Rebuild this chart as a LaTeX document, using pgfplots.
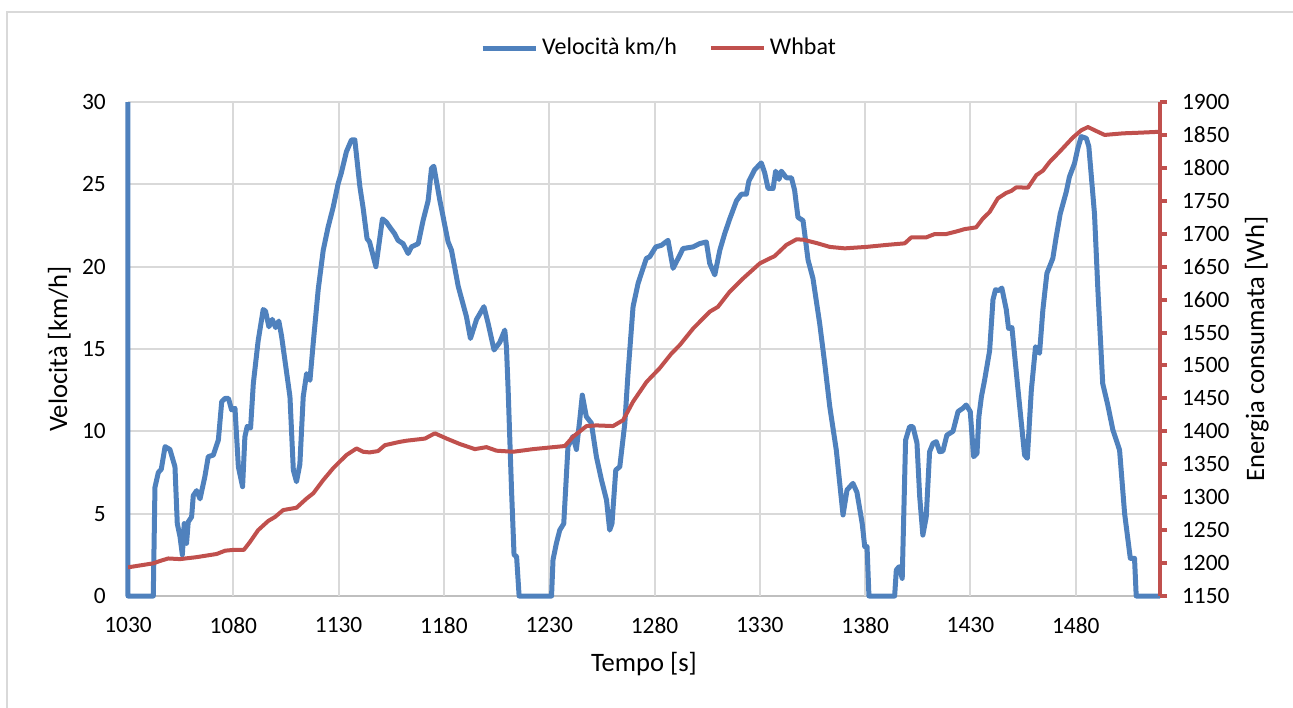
\documentclass[border=0pt]{standalone}
\usepackage{pgfplots}
\pgfplotsset{compat=1.18}
\usepackage{fontspec}
\setmainfont{Carlito}
\definecolor{vblue}{HTML}{4F81BD}
\definecolor{wred}{HTML}{C0504D}
\definecolor{gridgray}{HTML}{D9D9D9}
\definecolor{axisgray}{HTML}{BFBFBF}

\pgfplotsset{
  common/.style={
    width=516pt, height=247pt, scale only axis,
    xmin=1030, xmax=1520,
    font=\fontsize{11.7}{14}\selectfont,
    ticklabel style={font=\fontsize{11.7}{14}\selectfont},
    /pgf/number format/assume math mode=true,
    /pgf/number format/set thousands separator={},
  },
}

\begin{document}
\begin{tikzpicture}
\begin{axis}[common,
    ymin=0, ymax=30,
    xtick={1030,1080,...,1480}, ytick={0,5,...,30},
    axis x line*=bottom, axis y line*=left,
    x axis line style={-, color=axisgray, line width=1pt},
    y axis line style={draw=none},
    major tick length=0pt,
    ymajorgrids=true, xmajorgrids=false,
    extra x ticks={1080,1130,...,1480}, extra x tick labels={},
    extra x tick style={xmajorgrids=true},
    grid style={color=gridgray, line width=1pt},
    yticklabel style={xshift=-7.6pt},
    xticklabel style={yshift=-7pt},
    every axis x label/.style={at={(axis description cs:0.5,-0.1538)}, anchor=base,
      font=\fontsize{13.3}{16}\selectfont},
    every axis y label/.style={at={(axis description cs:-0.0591,0.5)}, anchor=base, rotate=90,
      font=\fontsize{13.3}{16}\selectfont},
    xlabel={Tempo [s]}, ylabel={Velocità [km/h]},
    clip=false,
    legend columns=-1,
    legend style={draw=none, fill=none, at={(axis description cs:0.5155,1.109)}, anchor=center,
      font=\fontsize{12}{14}\selectfont,
      /tikz/every even column/.append style={column sep=14pt}},
    legend image code/.code={\draw[#1] (0pt,0pt) -- (26.5pt,0pt);},
]
\addplot[vblue, line width=2.5pt, line join=round] coordinates {
(1030,30) (1030,0) (1042,0) (1042.8,6.6) (1044.4,7.5) (1045.8,7.7) (1047.6,9.07)
(1049.9,8.9) (1052.3,7.85) (1053.4,4.4) (1054.7,3.6) (1055.8,2.5) (1056.7,4.4)
(1057.8,3.2) (1058.6,4.5) (1060.2,4.8) (1061,6.1) (1062.6,6.4) (1064.2,5.9)
(1066.5,7.25) (1068.1,8.46) (1070.5,8.56) (1072.9,9.47) (1074.5,11.8) (1076.1,12.0)
(1077.7,12.0) (1079.2,11.3) (1080.8,11.4) (1082.4,7.85) (1084.4,6.64) (1085.5,9.67)
(1086.6,10.3) (1088.2,10.2) (1089.5,12.9) (1091.8,15.5) (1094.2,17.4) (1095.3,17.3)
(1096.9,16.35) (1098.5,16.8) (1100.1,16.3) (1101.6,16.7) (1102.9,15.8) (1106.9,12.1)
(1108.5,7.65) (1110.0,6.94) (1111.6,8.0) (1113.2,12.1) (1114.8,13.5) (1116.4,13.1)
(1117.9,15.3) (1120.3,18.6) (1122.7,21.0) (1125.0,22.4) (1127.4,23.6) (1129.8,25.06)
(1131.3,25.7) (1133.7,26.98) (1136.1,27.7) (1137.7,27.7) (1140.1,24.85) (1141.6,23.6)
(1143.5,21.7) (1144.7,21.5) (1147.7,20.0) (1150.8,22.9) (1152.7,22.7) (1154.3,22.4)
(1156.6,22.0) (1158.2,21.6) (1160.6,21.4) (1163.0,20.8) (1164.6,21.2) (1167.8,21.4)
(1170.1,22.8) (1172.5,24.0) (1174.1,25.97) (1175.2,26.1) (1178.1,24.0) (1182.0,21.5)
(1183.6,21.0) (1186.8,18.8) (1190.7,16.96) (1192.6,15.64) (1195.5,16.8) (1199.0,17.57)
(1201.0,16.55) (1203.8,14.94) (1206.5,15.4) (1208.9,16.15) (1209.7,15.1) (1210.5,12.5)
(1212.1,6.44) (1213.3,2.5) (1214.5,2.4) (1215.7,0) (1231.1,0) (1231.8,2.2)
(1233.4,3.2) (1235.0,4.0) (1236.9,4.4) (1238.9,9.07) (1241.3,9.7) (1242.9,8.9)
(1244.5,10.7) (1245.7,12.2) (1247.6,10.9) (1250.0,10.5) (1252.4,8.46) (1254.8,7.05)
(1257.2,5.83) (1258.7,4.0) (1259.8,4.4) (1261.6,7.65) (1263.5,7.85) (1265.9,10.5)
(1267.4,13.5) (1269.8,17.57) (1272.2,18.99) (1276.1,20.5) (1277.7,20.6) (1280.6,21.2)
(1283.3,21.3) (1286.4,21.6) (1288.8,19.9) (1292.0,20.7) (1293.5,21.1) (1298.3,21.2)
(1301.4,21.4) (1304.6,21.5) (1306.2,20.2) (1308.6,19.5) (1311.0,21.0) (1313.3,22.0)
(1315.7,22.9) (1318.9,24.0) (1321.2,24.4) (1323.6,24.4) (1324.8,25.2) (1327.6,25.9)
(1330.7,26.3) (1332.3,25.7) (1333.9,24.75) (1336.3,24.75) (1337.5,25.8) (1339.1,25.3)
(1340.2,25.8) (1342.6,25.4) (1345.0,25.4) (1346.5,24.65) (1348.1,23.0) (1350.5,22.8)
(1352.9,20.4) (1355.2,19.3) (1358.4,16.56) (1360.8,14.13) (1363.2,11.5) (1366.3,8.86)
(1369.5,4.92) (1371.4,6.44) (1374.2,6.84) (1376.1,6.3) (1378.6,4.4) (1379.8,3.0)
(1380.9,3.0) (1381.8,0) (1394.0,0) (1394.8,1.58) (1396.1,1.78) (1397.6,1.07)
(1399.2,9.47) (1401.1,10.28) (1402.7,10.28) (1404.6,9.3) (1405.9,6.03) (1407.4,3.7)
(1409.0,4.8) (1410.6,8.76) (1412.2,9.27) (1413.8,9.37) (1415.4,8.76) (1416.9,8.8)
(1418.8,9.77) (1421.7,10.0) (1424.1,11.2) (1426.4,11.4) (1428.0,11.6) (1429.9,11.2)
(1431.5,8.46) (1433.1,8.66) (1434.0,10.9) (1435.2,12.1) (1436.7,13.1) (1439.1,14.9)
(1440.7,18.0) (1441.9,18.6) (1443.5,18.55) (1444.9,18.7) (1447.0,17.4) (1448.1,16.25)
(1449.7,16.3) (1452.6,12.5) (1455.7,8.56) (1457.0,8.36) (1458.9,12.5) (1460.9,15.14)
(1462.8,14.74) (1464.4,17.4) (1466.3,19.6) (1469.1,20.5) (1470.7,21.8) (1472.6,23.2)
(1475.5,24.55) (1477.0,25.46) (1479.4,26.27) (1481.0,27.2) (1482.6,27.9) (1485.0,27.8)
(1486.2,27.3) (1488.9,23.2) (1490.5,18.6) (1492.8,12.9) (1495.2,11.6) (1497.6,10.1)
(1500.8,8.86) (1503.2,5.0) (1505.9,2.29) (1507.9,2.29) (1508.7,0) (1520,0)
};
\addlegendentry{Velocità km/h}
\addlegendimage{wred, line width=2pt}
\addlegendentry{Whbat}
\end{axis}

\begin{axis}[common,
    ymin=1150, ymax=1900, ytick={1150,1200,...,1900},
    axis x line=none, axis y line*=right,
    y axis line style={-, color=wred, line width=2pt},
    ytick style={color=wred, line width=2pt},
    tick align=outside, major tick length=3.5pt,
    yticklabel style={xshift=4pt},
    every axis y label/.style={at={(axis description cs:1.1008,0.5)}, anchor=base, rotate=90,
      font=\fontsize{13.3}{16}\selectfont},
    ylabel={Energia consumata [Wh]},
]
\addplot[wred, line width=2pt, line join=round] coordinates {
(1030,1193.5) (1042,1199.6) (1045,1203) (1049.1,1207) (1054.7,1206) (1062.6,1209)
(1072.1,1213.8) (1076.1,1218.8) (1080,1220) (1085,1220) (1087.9,1232) (1091.8,1250)
(1096.6,1264) (1099.8,1270) (1103.7,1280.5) (1110,1284) (1114.8,1298) (1118,1306)
(1122.7,1326) (1127.4,1344) (1133.7,1364) (1138.5,1374) (1141.6,1369) (1144.7,1368)
(1148.7,1370) (1152,1379) (1159,1384) (1162.3,1385.8) (1171,1389) (1175.7,1397)
(1181.3,1389) (1187.6,1380.7) (1194.7,1373) (1200.2,1376) (1205,1370.6) (1212.9,1369)
(1222.4,1373) (1237.4,1377.7) (1241.3,1391.8) (1247.7,1408) (1252.4,1409) (1260.3,1408)
(1265.1,1417) (1269.8,1445) (1276.2,1475) (1282.5,1496) (1288,1518) (1292,1531)
(1298.3,1556) (1306.2,1581.6) (1310.1,1589) (1315.7,1612) (1322,1632) (1330,1655)
(1333.1,1660) (1337,1666) (1342.6,1683) (1347.4,1691.5) (1350.5,1691) (1356.8,1686)
(1363.2,1680) (1370.3,1677.8) (1380.6,1680) (1390.1,1683) (1398.8,1685.4) (1401.9,1694.5)
(1409,1694.5) (1413,1699.5) (1418.5,1699.5) (1424,1704) (1427.2,1707) (1432.7,1709.7)
(1435.9,1723) (1439.1,1733) (1443,1753.7) (1447,1762) (1449.4,1765) (1451.7,1770.4)
(1457.3,1770) (1461.3,1789) (1464.4,1795.7) (1467.6,1809) (1472.3,1824.4) (1478.6,1846)
(1482.6,1857) (1485.8,1862) (1489,1857) (1493.7,1850) (1502.4,1852.4) (1510.3,1853.4)
(1520,1854.8)
};
\end{axis}

\draw[gridgray, line width=0.75pt] (-60.5pt,-70pt) -- (-60.5pt,292pt) -- (600pt,292pt);
\pgfresetboundingbox
\useasboundingbox (-64pt,-55.5pt) rectangle (582.5pt,298pt);
\end{tikzpicture}
\end{document}
